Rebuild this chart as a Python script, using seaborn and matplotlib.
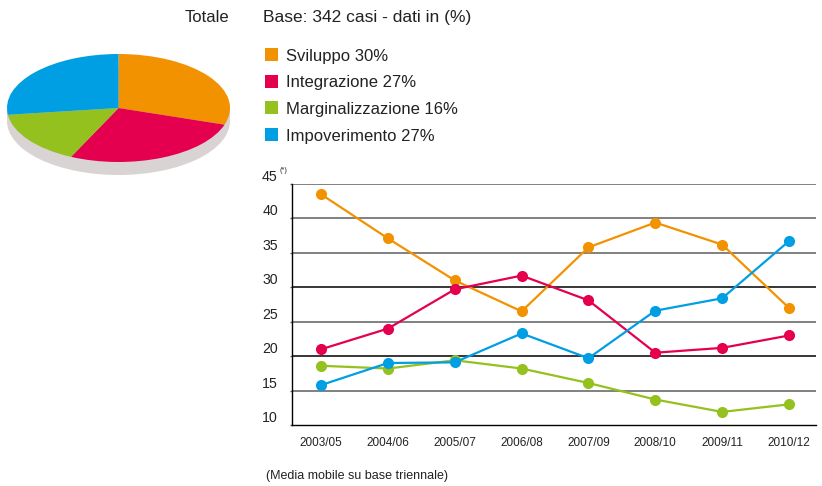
import numpy as np
import pandas as pd
import matplotlib
matplotlib.use("Agg")
import matplotlib.pyplot as plt
from matplotlib import font_manager
from matplotlib.patches import Rectangle, Ellipse
import seaborn as sns

# ---------------- data ----------------
periodi = ["2003/05", "2004/06", "2005/07", "2006/08", "2007/09", "2008/10", "2009/11", "2010/12"]
serie = ["Sviluppo", "Integrazione", "Marginalizzazione", "Impoverimento"]
quote_totale = [30, 27, 16, 27]
sviluppo = [43.5, 37.1, 31.0, 26.5, 35.8, 39.4, 36.2, 27.0]
integrazione = [21.0, 24.0, 29.7, 31.7, 28.1, 20.5, 21.2, 23.0]
marginalizzazione = [18.6, 18.2, 19.4, 18.2, 16.1, 13.7, 11.9, 13.0]
impoverimento = [15.8, 19.0, 19.1, 23.3, 19.7, 26.6, 28.4, 36.7]
y_ticks = [10, 15, 20, 25, 30, 35, 40, 45]
colori = ["#F39200", "#E5004F", "#95C11F", "#009FE3"]

# ---------------- style ----------------
sns.set_style("white")
names = {f.name for f in font_manager.fontManager.ttflist}
base_font = "Liberation Sans" if "Liberation Sans" in names else "DejaVu Sans"
plt.rcParams["font.family"] = [base_font, "DejaVu Sans"]
TXT = "#222222"

W, H = 822, 486
fig = plt.figure(figsize=(W / 100, H / 100), dpi=100)


def fx(x):
    return x / W


def fy(y):
    return 1 - y / H


# ---------------- pie (top left) ----------------
thick = 13 / 54  # depth of the 3D rim in radius units
ax_pie = fig.add_axes([fx(7), fy(175), 223 / W, 121 / H])
ax_pie.pie(quote_totale, colors=colori, startangle=90, counterclock=False,
           radius=1, center=(0, 0), wedgeprops=dict(linewidth=0))
rim = "#DAD3D3"
ax_pie.add_patch(Ellipse((0, -thick), 2, 2, facecolor=rim, edgecolor="none", zorder=0))
ax_pie.add_patch(Rectangle((-1, -thick), 2, thick, facecolor=rim, edgecolor="none", zorder=0))
ax_pie.set_aspect("auto")
ax_pie.set_xlim(-1, 1)
ax_pie.set_ylim(-1 - thick, 1)
ax_pie.axis("off")

# ---------------- header and legend ----------------
fig.text(fx(229), fy(17.5), "Totale", ha="right", va="center", fontsize=12, color=TXT)
fig.text(fx(263), fy(17.5), "Base: 342 casi - dati in (%)", ha="left", va="center",
         fontsize=12.5, color=TXT)
leg_y = [54.7, 81.3, 108.0, 134.7]
for name, q, c, yc in zip(serie, quote_totale, colori, leg_y):
    fig.add_artist(Rectangle((fx(265), fy(yc + 6.5)), 13 / W, 13 / H,
                             transform=fig.transFigure, facecolor=c, edgecolor="none"))
    fig.text(fx(286), fy(yc + 6), f"{name} {q}%", ha="left", va="baseline",
             fontsize=12, color=TXT)

# ---------------- line chart ----------------
ax = fig.add_axes([fx(291.7), fy(425), (815.7 - 291.7) / W, (425 - 184) / H])
df = pd.DataFrame({
    "periodo": periodi * 4,
    "serie": np.repeat(serie, len(periodi)),
    "valore": sviluppo + integrazione + marginalizzazione + impoverimento,
})
df["pos"] = df["periodo"].map({p: i for i, p in enumerate(periodi)})

grid_style = {10: "#000000", 15: "#5e5e5e", 20: "#000000", 25: "#5e5e5e",
              30: "#000000", 35: "#5e5e5e", 40: "#5e5e5e", 45: "#5e5e5e"}
for v in y_ticks[1:]:
    ax.axhline(v, color=grid_style[v], lw=1.1, zorder=0)

sns.lineplot(data=df, x="pos", y="valore", hue="serie", hue_order=serie,
             palette=colori, marker="o", markersize=8, markeredgewidth=0,
             linewidth=1.6, legend=False, sort=False, ax=ax, zorder=3)

ax.set_xlim(-0.44, len(periodi) - 0.6)
ax.set_ylim(10, 45)
ax.set_xlabel("")
ax.set_ylabel("")

ax.set_xticks(range(len(periodi)))
ax.set_xticklabels(periodi, fontsize=8.5, color=TXT)
ax.set_xticks([i - 0.44 for i in range(len(periodi))], minor=True)
ax.tick_params(axis="x", which="major", length=0, pad=9)
ax.tick_params(axis="x", which="minor", length=3.5, width=1, color="black", direction="out")

ax.set_yticks(y_ticks)
ax.set_yticklabels([str(v) for v in y_ticks], fontsize=10.2, color=TXT)
for lab in ax.get_yticklabels():
    lab.set_verticalalignment("bottom")
ax.tick_params(axis="y", length=1.5, width=1, color="#5e5e5e", pad=8.5, left=True)
ax.annotate("(*)", xy=(0, 45), xycoords=("axes fraction", "data"),
            xytext=(-9.0, 9.5), textcoords="offset points", ha="left", va="center",
            fontsize=5.2, color=TXT)

for s in ["top", "right"]:
    ax.spines[s].set_visible(False)
for s in ["left", "bottom"]:
    ax.spines[s].set_color("black")
    ax.spines[s].set_linewidth(1.0)

fig.text(fx(266), fy(476), "(Media mobile su base triennale)", ha="left", va="center",
         fontsize=9, color=TXT)

fig.savefig("out.png", dpi=100)
